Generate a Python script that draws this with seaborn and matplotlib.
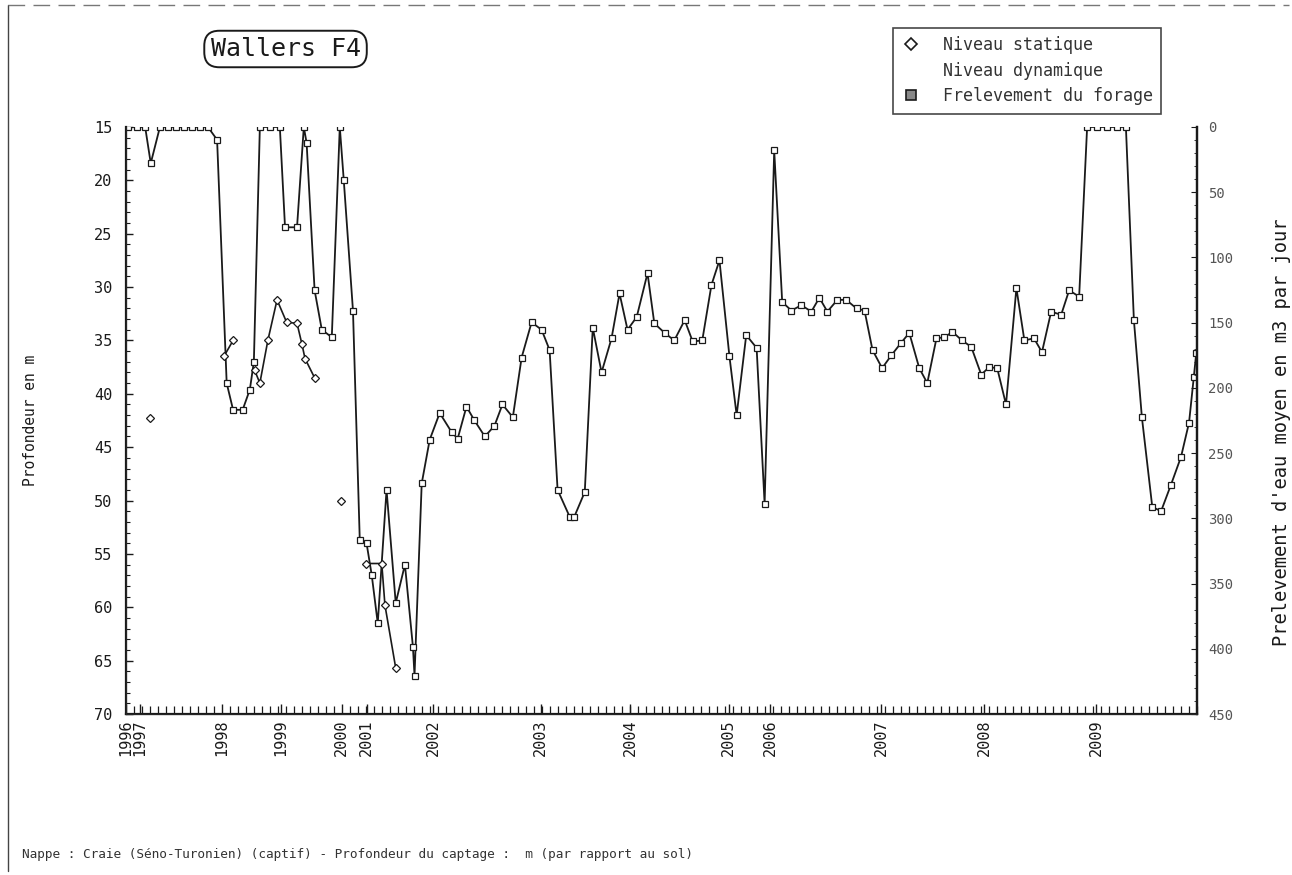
import matplotlib
matplotlib.use("Agg")
import matplotlib.pyplot as plt
from matplotlib.lines import Line2D
from matplotlib.ticker import MultipleLocator
import seaborn as sns
import pandas as pd

# Niveau dynamique : rang de la mesure et profondeur (m)
rang_dyn = [0.25, 1.4, 2.4, 3.1, 4.25, 5.25, 6.25, 7.25, 8.25, 9.25, 10.25, 11.4,
            12.6, 13.4, 14.6, 15.5, 16.0, 16.75, 18.0, 19.25, 19.9, 21.4, 22.25,
            22.6, 23.6, 24.5, 25.75, 26.75, 27.25, 28.4, 29.25, 30.1, 30.75, 31.5,
            32.6, 33.75, 34.9, 35.9, 36.1, 37.0, 38.0, 39.25, 40.75, 41.5, 42.6,
            43.6, 44.9, 46.1, 47.1, 48.4, 49.5, 50.75, 52.0, 53.0, 54.0, 55.5,
            56.1, 57.4, 58.4, 59.5, 60.75, 61.75, 62.75, 63.9, 65.25, 66.1, 67.4,
            68.6, 69.9, 70.9, 72.1, 73.25, 74.25, 75.5, 76.4, 77.6, 78.9, 79.9,
            81.1, 82.1, 83.25, 84.5, 85.75, 86.75, 87.75, 89.0, 90.1, 91.4, 92.4,
            93.4, 94.6, 95.75, 97.0, 98.0, 99.25, 100.25, 101.4, 102.4, 103.4,
            104.6, 105.75, 107.0, 108.0, 109.0, 110.1, 111.4, 112.4, 113.6,
            114.6, 115.75, 117.0, 118.0, 119.25, 120.25, 121.5, 122.75, 124.0,
            125.1, 126.1, 127.1, 128.4, 129.5, 130.75, 132.0, 133.0, 133.6, 133.9]
prof_dyn = [15, 15, 15, 18.4, 15, 15, 15, 15, 15, 15, 15, 16.2,
            39, 41.5, 41.5, 39.6, 37, 15, 15, 15, 24.4, 24.4, 15,
            16.5, 30.3, 34, 34.7, 15, 20, 32.2, 53.7, 54, 57, 61.5,
            49, 59.6, 56, 63.7, 66.4, 48.4, 44.3, 41.8, 43.6, 44.2, 41.2,
            42.5, 44, 43, 41, 42.2, 36.6, 33.3, 34, 35.9, 49, 51.5,
            51.5, 49.2, 33.8, 38, 34.8, 30.6, 34, 32.8, 28.7, 33.4, 34.3,
            35, 33.1, 35.1, 35, 29.8, 27.5, 36.5, 42, 34.5, 35.7, 50.3,
            17.2, 31.4, 32.2, 31.7, 32.3, 31, 32.3, 31.2, 31.2, 32, 32.2,
            35.9, 37.6, 36.4, 35.2, 34.3, 37.6, 39, 34.8, 34.7, 34.2,
            35, 35.6, 38.2, 37.5, 37.6, 41, 30.1, 35, 34.8,
            36.1, 32.3, 32.6, 30.3, 30.9, 15, 15, 15, 15,
            15, 33.1, 42.2, 50.6, 51, 48.5, 45.9, 42.7, 38.4, 36.2]

# Niveau statique : mesures isolées ou par petites séries
rang_stat = [3.0, 12.25, 13.4, 16.1, 16.75, 17.75, 18.9, 20.1, 21.4, 22.0, 22.4,
             23.6, 26.9, 30.0, 32.0, 32.4, 33.75]
prof_stat = [42.3, 36.5, 35, 37.8, 39, 35, 31.2, 33.3, 33.4, 35.3, 36.7,
             38.5, 50, 55.9, 55.9, 59.8, 65.7]
serie_stat = [1, 2, 2, 3, 3, 3, 3, 3, 3, 3, 3, 3, 4, 5, 5, 5, 5]

annees = ["1996", "1997", "1998", "1999", "2000", "2001", "2002", "2003",
          "2004", "2005", "2006", "2007", "2008", "2009"]
rang_annees = [0.0, 1.7, 12.0, 19.4, 27.0, 30.1, 38.4, 51.9, 63.1, 75.4,
               80.6, 94.5, 107.4, 121.4]

prel_ticks = [0, 50, 100, 150, 200, 250, 300, 350, 400, 450]

df_dyn = pd.DataFrame({"rang": rang_dyn, "prof": prof_dyn})
df_stat = pd.DataFrame({"rang": rang_stat, "prof": prof_stat, "serie": serie_stat})

sns.set_style("white")
plt.rcParams["font.family"] = ["DejaVu Sans Mono", "DejaVu Sans"]
encre = "#1a1a1a"

fig = plt.figure(figsize=(12.92, 8.75), dpi=100)
ax = fig.add_axes([0.0975, 0.184, 0.829, 0.6709])

sns.lineplot(data=df_dyn, x="rang", y="prof", ax=ax, color=encre, lw=1.3,
             marker="s", markersize=4.5, markerfacecolor="white",
             markeredgecolor=encre, markeredgewidth=0.9, sort=False)
sns.lineplot(data=df_stat, x="rang", y="prof", units="serie", estimator=None,
             ax=ax, color=encre, lw=1.2, marker="D", markersize=4,
             markerfacecolor="white", markeredgecolor=encre,
             markeredgewidth=0.9, sort=False)

ax.set_xlim(0, 134)
ax.set_ylim(70, 15)
ax.set_xticks(rang_annees)
ax.set_xticklabels(annees, rotation=90, fontsize=11, color=encre)
ax.xaxis.set_minor_locator(MultipleLocator(1))
ax.yaxis.set_major_locator(MultipleLocator(5))
ax.yaxis.set_minor_locator(MultipleLocator(1))
ax.tick_params(axis="both", which="both", direction="in", color=encre,
               bottom=True, left=True, top=False, right=False)
ax.tick_params(axis="x", which="major", length=7, width=1, pad=4)
ax.tick_params(axis="x", which="minor", length=6, width=0.9)
ax.tick_params(axis="y", which="major", length=5, width=1, pad=10,
               labelsize=11, labelcolor=encre)
ax.tick_params(axis="y", which="minor", length=3, width=0.8)
ax.set_xlabel("")
ax.set_ylabel("Profondeur en m", fontsize=10.5, color=encre)
ax.yaxis.set_label_coords(-0.082, 0.5)
ax.spines["top"].set_visible(False)
for s in ["left", "bottom", "right"]:
    ax.spines[s].set_color(encre)
    ax.spines[s].set_linewidth(1.6)

ax2 = ax.twinx()
ax2.set_ylim(450, 0)
ax2.set_yticks(prel_ticks)
ax2.yaxis.set_minor_locator(MultipleLocator(10))
ax2.tick_params(axis="y", which="both", direction="in", right=True,
                color=encre)
ax2.tick_params(axis="y", which="major", length=4, pad=8, labelsize=10,
                labelcolor="#555555")
ax2.tick_params(axis="y", which="minor", length=2)
ax2.set_ylabel("Prelevement d'eau moyen en m3 par jour", fontsize=13.5,
               color=encre, rotation=90)
ax2.yaxis.set_label_coords(1.07, 0.48)
ax2.spines["top"].set_visible(False)
ax2.spines["right"].set_color(encre)
ax2.spines["right"].set_linewidth(1.6)

handles = [
    Line2D([], [], ls="none", marker="D", markersize=6, color=encre,
           markerfacecolor="white", markeredgewidth=1.2),
    Line2D([], [], ls="none", marker=None),
    Line2D([], [], ls="none", marker="s", markersize=7, color=encre,
           markerfacecolor="#888888", markeredgewidth=1.2),
]
leg = ax.legend(handles, ["Niveau statique", "Niveau dynamique",
                          "Frelevement du forage"],
                loc="upper left", bbox_to_anchor=(0.691, 0.968),
                bbox_transform=fig.transFigure, borderaxespad=0,
                fancybox=False, frameon=True, fontsize=12,
                handlelength=1.2, handletextpad=1.3, labelspacing=0.45,
                borderpad=0.5)
leg.get_frame().set_edgecolor(encre)
leg.get_frame().set_linewidth(1.2)
for t in leg.get_texts():
    t.set_color("#333333")

fig.text(0.221, 0.944, "Wallers F4", fontsize=18, color=encre,
         ha="center", va="center",
         bbox=dict(boxstyle="round,pad=0.25,rounding_size=0.6",
                   fc="white", ec=encre, lw=1.4))

fig.text(0.017, 0.023, "Nappe : Craie (Séno-Turonien) (captif) - "
         "Profondeur du captage :  m (par rapport au sol)",
         fontsize=9.2, color="#333333", ha="left", va="center")

# cadre de la page numérisée
fig.add_artist(Line2D([0.006, 0.006], [0.005, 0.994], color="#444444", lw=1))
fig.add_artist(Line2D([0.006, 0.998], [0.994, 0.994], color="#777777",
                      lw=1, ls=(0, (12, 6))))

fig.savefig("out.png", dpi=100)
